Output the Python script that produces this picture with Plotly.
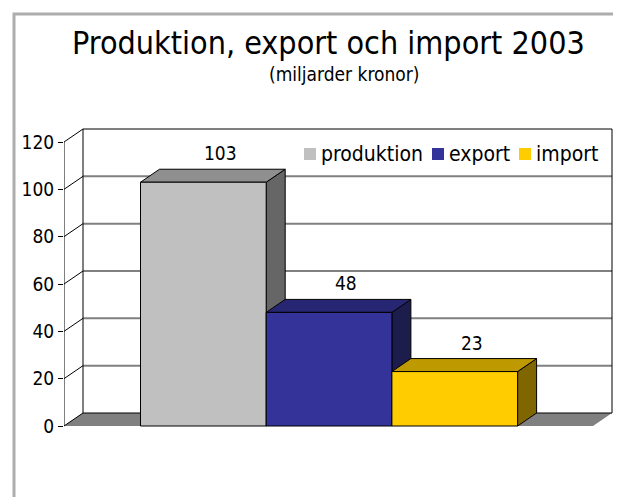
import plotly.graph_objects as go

# ---- data ----
series = ["produktion", "export", "import"]
values = [103, 48, 23]
tick_vals = [0, 20, 40, 60, 80, 100, 120]
title_text = "Produktion, export och import 2003"
subtitle_text = "(miljarder kronor)"

# ---- styles ----
front_colors = ["#C0C0C0", "#333399", "#FFCC00"]
top_colors = ["#8F8F8F", "#262673", "#BF9900"]
side_colors = ["#666666", "#1C1C4D", "#806600"]
FONT = "DejaVu Sans Condensed, DejaVu Sans, sans-serif"

OFF = 8                 # page body margin offset
W_PX, H_PX = 621 - OFF, 497 - OFF
PLOT_L = 64             # front-left axis x (reference px)
ZERO_PY = 426           # reference pixel row of value 0 on the front plane
TOP_PY = 142            # reference pixel row of value 120
K = (ZERO_PY - TOP_PY) / 120.0  # px per unit
DX = 19                 # depth offset (px)
DYU = 13 / K            # depth offset in value units
FLOOR_R = 593           # front-right end of floor (reference px)
BAR_L0 = 140.5          # left of first bar (reference px)
BAR_W = 125.7           # bar width (px)


def v_of(py):
    return (ZERO_PY - py) / K


centers = [BAR_L0 + BAR_W * (i + 0.5) for i in range(len(values))]

shapes = []


def path(pts):
    return "M " + " L ".join(f"{x},{y}" for x, y in pts) + " Z"


# floor
shapes.append(dict(type="path", xref="x", yref="y", layer="below",
                   path=path([(PLOT_L, 0), (FLOOR_R, 0), (FLOOR_R + DX, DYU), (PLOT_L + DX, DYU)]),
                   fillcolor="#808080", line=dict(width=0)))
# back wall gridlines + side wall diagonals
for v in tick_vals:
    if 0 < v < 120:
        shapes.append(dict(type="line", xref="x", yref="y", layer="below",
                           x0=PLOT_L + DX, y0=v + DYU, x1=FLOOR_R + DX, y1=v + DYU,
                           line=dict(color="#808080", width=2)))
    shapes.append(dict(type="line", xref="x", yref="y", layer="below",
                       x0=PLOT_L, y0=v, x1=PLOT_L + DX, y1=v + DYU,
                       line=dict(color="black", width=1)))
# back wall border + axis line
for (x0, y0, x1, y1) in [
    (PLOT_L + DX, DYU, FLOOR_R + DX, DYU),
    (PLOT_L + DX, 120 + DYU, FLOOR_R + DX, 120 + DYU),
    (PLOT_L + DX, DYU, PLOT_L + DX, 120 + DYU),
    (FLOOR_R + DX, DYU, FLOOR_R + DX, 120 + DYU),
    (PLOT_L, 0, PLOT_L, 120),
]:
    shapes.append(dict(type="line", xref="x", yref="y", layer="below",
                       x0=x0, y0=y0, x1=x1, y1=y1, line=dict(color="black", width=1)))

# bar top and side faces
for i, v in enumerate(values):
    L = centers[i] - BAR_W / 2
    R = centers[i] + BAR_W / 2
    shapes.append(dict(type="path", xref="x", yref="y", layer="below",
                       path=path([(R, 0), (R, v), (R + DX, v + DYU), (R + DX, DYU)]),
                       fillcolor=side_colors[i], line=dict(color="black", width=1)))
    shapes.append(dict(type="path", xref="x", yref="y", layer="below",
                       path=path([(L, v), (R, v), (R + DX, v + DYU), (L + DX, v + DYU)]),
                       fillcolor=top_colors[i], line=dict(color="black", width=1)))


def px2paper_x(px):
    return (px - PLOT_L) / (621 - PLOT_L)


def py2paper_y(py):
    return (497 - py) / (497 - OFF)


# outer frame
shapes.append(dict(type="rect", xref="paper", yref="paper", layer="above",
                   x0=px2paper_x(14), x1=px2paper_x(616), y0=py2paper_y(530), y1=py2paper_y(14),
                   line=dict(color="#ADADAD", width=3), fillcolor="rgba(0,0,0,0)"))

fig = go.Figure()
fig.add_trace(go.Bar(
    x=centers, y=values, width=BAR_W,
    marker=dict(color=front_colors, line=dict(color="black", width=1)),
    showlegend=False, hoverinfo="skip",
))

annotations = []
# value labels
for i, v in enumerate(values):
    annotations.append(dict(x=centers[i] + 17, y=v + DYU, xref="x", yref="y",
                            text=str(v), showarrow=False, yshift=16,
                            font=dict(family=FONT, size=19, color="black")))
# title
annotations.append(dict(x=328, y=v_of(43), xref="x", yref="y", text=title_text,
                        showarrow=False, font=dict(family=FONT, size=32, color="black")))
annotations.append(dict(x=344, y=v_of(74), xref="x", yref="y", text=subtitle_text,
                        showarrow=False, font=dict(family=FONT, size=19, color="black")))

# legend (custom)
leg_sq_x = [304, 432, 519]
leg_txt_x = [319, 447, 534]
LEG_PY = 154
for i, name in enumerate(series):
    shapes.append(dict(type="rect", xref="x", yref="y", layer="above",
                       x0=leg_sq_x[i], x1=leg_sq_x[i] + 12,
                       y0=v_of(LEG_PY + 6), y1=v_of(LEG_PY - 6),
                       fillcolor=front_colors[i], line=dict(width=0)))
    annotations.append(dict(x=leg_txt_x[i], y=v_of(LEG_PY), xref="x", yref="y",
                            text=name, showarrow=False, xanchor="left",
                            font=dict(family=FONT, size=21, color="black")))

fig.update_layout(
    width=W_PX, height=H_PX,
    margin=dict(l=PLOT_L - OFF, r=0, t=0, b=0, pad=0),
    paper_bgcolor="white", plot_bgcolor="white",
    shapes=shapes, annotations=annotations,
    xaxis=dict(range=[PLOT_L, 621], showgrid=False, zeroline=False,
               showticklabels=False, ticks="", showline=False, fixedrange=True),
    yaxis=dict(range=[v_of(497), v_of(OFF)], tickvals=tick_vals, ticks="outside",
               ticklen=5, tickcolor="black", showgrid=False, zeroline=False,
               showline=False, automargin=False,
               tickfont=dict(family=FONT, size=19, color="black")),
    showlegend=False,
)

fig.write_html("out.html")
